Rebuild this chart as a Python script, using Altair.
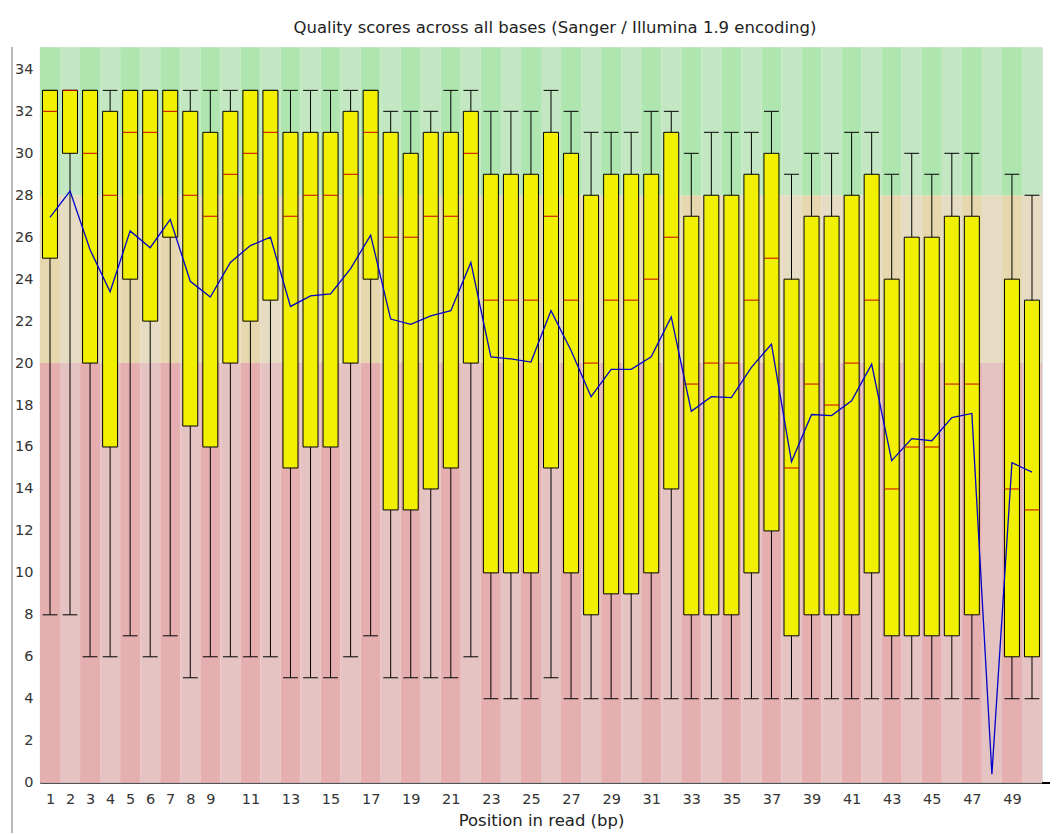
import altair as alt
import pandas as pd

positions = list(range(1, 51))
upper = [33, 33, 33, 33, 33, 33, 33, 33, 33, 33,
         33, 33, 33, 33, 33, 33, 33, 32, 32, 32,
         33, 33, 32, 32, 32, 33, 32, 31, 31, 31,
         32, 32, 30, 31, 31, 31, 32, 29, 30, 30,
         31, 31, 29, 30, 29, 30, 30, None, 29, 28]
q3 = [33, 33, 33, 32, 33, 33, 33, 32, 31, 32,
      33, 33, 31, 31, 31, 32, 33, 31, 30, 31,
      31, 32, 29, 29, 29, 31, 30, 28, 29, 29,
      29, 31, 27, 28, 28, 29, 30, 24, 27, 27,
      28, 29, 24, 26, 26, 27, 27, None, 24, 23]
median = [32, 33, 30, 28, 31, 31, 32, 28, 27, 29,
          30, 31, 27, 28, 28, 29, 31, 26, 26, 27,
          27, 30, 23, 23, 23, 27, 23, 20, 23, 23,
          24, 26, 19, 20, 20, 23, 25, 15, 19, 18,
          20, 23, 14, 16, 16, 19, 19, None, 14, 13]
q1 = [25, 30, 20, 16, 24, 22, 26, 17, 16, 20,
      22, 23, 15, 16, 16, 20, 24, 13, 13, 14,
      15, 20, 10, 10, 10, 15, 10, 8, 9, 9,
      10, 14, 8, 8, 8, 10, 12, 7, 8, 8,
      8, 10, 7, 7, 7, 7, 8, None, 6, 6]
lower = [8, 8, 6, 6, 7, 6, 7, 5, 6, 6,
         6, 6, 5, 5, 5, 6, 7, 5, 5, 5,
         5, 6, 4, 4, 4, 5, 4, 4, 4, 4,
         4, 4, 4, 4, 4, 4, 4, 4, 4, 4,
         4, 4, 4, 4, 4, 4, 4, None, 4, 4]
mean = [26.95, 28.2, 25.4, 23.4, 26.3, 25.5, 26.85, 23.9, 23.15, 24.8,
        25.6, 26.0, 22.7, 23.2, 23.3, 24.5, 26.1, 22.1, 21.85, 22.25,
        22.5, 24.8, 20.3, 20.2, 20.05, 22.5, 20.6, 18.4, 19.7, 19.7,
        20.3, 22.2, 17.7, 18.4, 18.35, 19.8, 20.9, 15.3, 17.55, 17.5,
        18.2, 19.95, 15.35, 16.4, 16.3, 17.4, 17.6, 0.4, 15.25, 14.8]

x_tick_values = list(range(1, 10)) + list(range(11, 50, 2))
y_tick_values = list(range(0, 35, 2))

band_lo = [0, 20, 28]
band_hi = [20, 28, 35.05]
band_dark = ["#e6afaf", "#e6d7af", "#afe6af"]
band_light = ["#e6c3c3", "#e6dcc3", "#c3e6c3"]

Y_MAX = 35.05

# background stripes
bg_rows = []
for p in positions:
    for lo, hi, dk, lt in zip(band_lo, band_hi, band_dark, band_light):
        bg_rows.append({"x0": p - 0.5, "x1": p + 0.5, "y0": lo, "y1": hi,
                        "c": dk if p % 2 == 1 else lt})
bg = pd.DataFrame(bg_rows)

box = pd.DataFrame({"pos": positions, "upper": upper, "q3": q3,
                    "median": median, "q1": q1, "lower": lower}).dropna()
means = pd.DataFrame({"pos": positions, "mean": mean})

xs = alt.Scale(domain=[0.5, 50.5], nice=False, zero=False, padding=0)
ys = alt.Scale(domain=[0, Y_MAX], nice=False, zero=True, padding=0)

x_axis = alt.Axis(values=x_tick_values, title="Position in read (bp)", grid=False,
                  ticks=False, labelPadding=10, labelFontSize=14.5, labelColor="#333",
                  titleFontSize=16.5, titleFontWeight="normal", titleColor="#222",
                  titlePadding=6, domainColor="#000", domainWidth=1,
                  labelFont="DejaVu Sans", titleFont="DejaVu Sans", labelFlush=False,
                  labelOverlap=False, labelSeparation=0, labelBound=False)
y_axis = alt.Axis(values=y_tick_values, title=None, grid=False, ticks=False,
                  labelPadding=7, labelFontSize=14.5, labelColor="#333",
                  domainColor="#000", domainWidth=1, labelFont="DejaVu Sans",
                  labelOverlap=False)


def X(field):
    return alt.X(field, scale=xs, axis=x_axis)


def Y(field):
    return alt.Y(field, scale=ys, axis=y_axis)


background = alt.Chart(bg).mark_rect(strokeWidth=0).encode(
    x=X("x0:Q"),
    x2="x1:Q",
    y=Y("y0:Q"),
    y2="y1:Q",
    color=alt.Color("c:N", scale=None),
)

whisker = alt.Chart(box).mark_rule(color="#000", strokeWidth=1).encode(
    x=X("pos:Q"), y=Y("lower:Q"), y2="upper:Q",
)

cap_base = alt.Chart(box).transform_calculate(
    xl="datum.pos - 0.37", xr="datum.pos + 0.37"
)
cap_top = cap_base.mark_rule(color="#000", strokeWidth=1).encode(
    x=X("xl:Q"), x2="xr:Q", y=Y("upper:Q"))
cap_bot = cap_base.mark_rule(color="#000", strokeWidth=1).encode(
    x=X("xl:Q"), x2="xr:Q", y=Y("lower:Q"))

boxes = alt.Chart(box).mark_bar(size=15, color="#f0f000", stroke="#000",
                                strokeWidth=1).encode(
    x=X("pos:Q"), y=Y("q1:Q"), y2="q3:Q",
)

medians = cap_base.mark_rule(color="#c80000", strokeWidth=1).encode(
    x=X("xl:Q"), x2="xr:Q", y=Y("median:Q"))

mean_line = alt.Chart(means).mark_line(color="#0000c8", strokeWidth=1.3).encode(
    x=X("pos:Q"), y=Y("mean:Q"),
)

border = alt.Chart(means).mark_rule(color="#bbbbbb", strokeWidth=1).encode(
    x=alt.value(-28), y=alt.value(0), y2=alt.value(790))
axis_ext = alt.Chart(means).mark_rule(color="#000", strokeWidth=1).encode(
    x=alt.value(1003), x2=alt.value(1020), y=alt.value(736.5))

chart = alt.layer(
    background, whisker, cap_top, cap_bot, boxes, medians, mean_line, border, axis_ext
).properties(
    width=1003,
    height=736,
    title=alt.TitleParams(
        "Quality scores across all bases (Sanger / Illumina 1.9 encoding)",
        fontSize=16.5, fontWeight="normal", font="DejaVu Sans", color="#222",
        anchor="middle", offset=10, dx=14),
    autosize=alt.AutoSizeParams(type="none"),
    padding={"left": 32, "top": 39, "right": 8, "bottom": 50},
).configure_view(strokeWidth=0).configure(background="white").configure_axis(
    labelOverlap=False
)

chart.save("out.html", embed_options={"renderer": "svg", "actions": False})
